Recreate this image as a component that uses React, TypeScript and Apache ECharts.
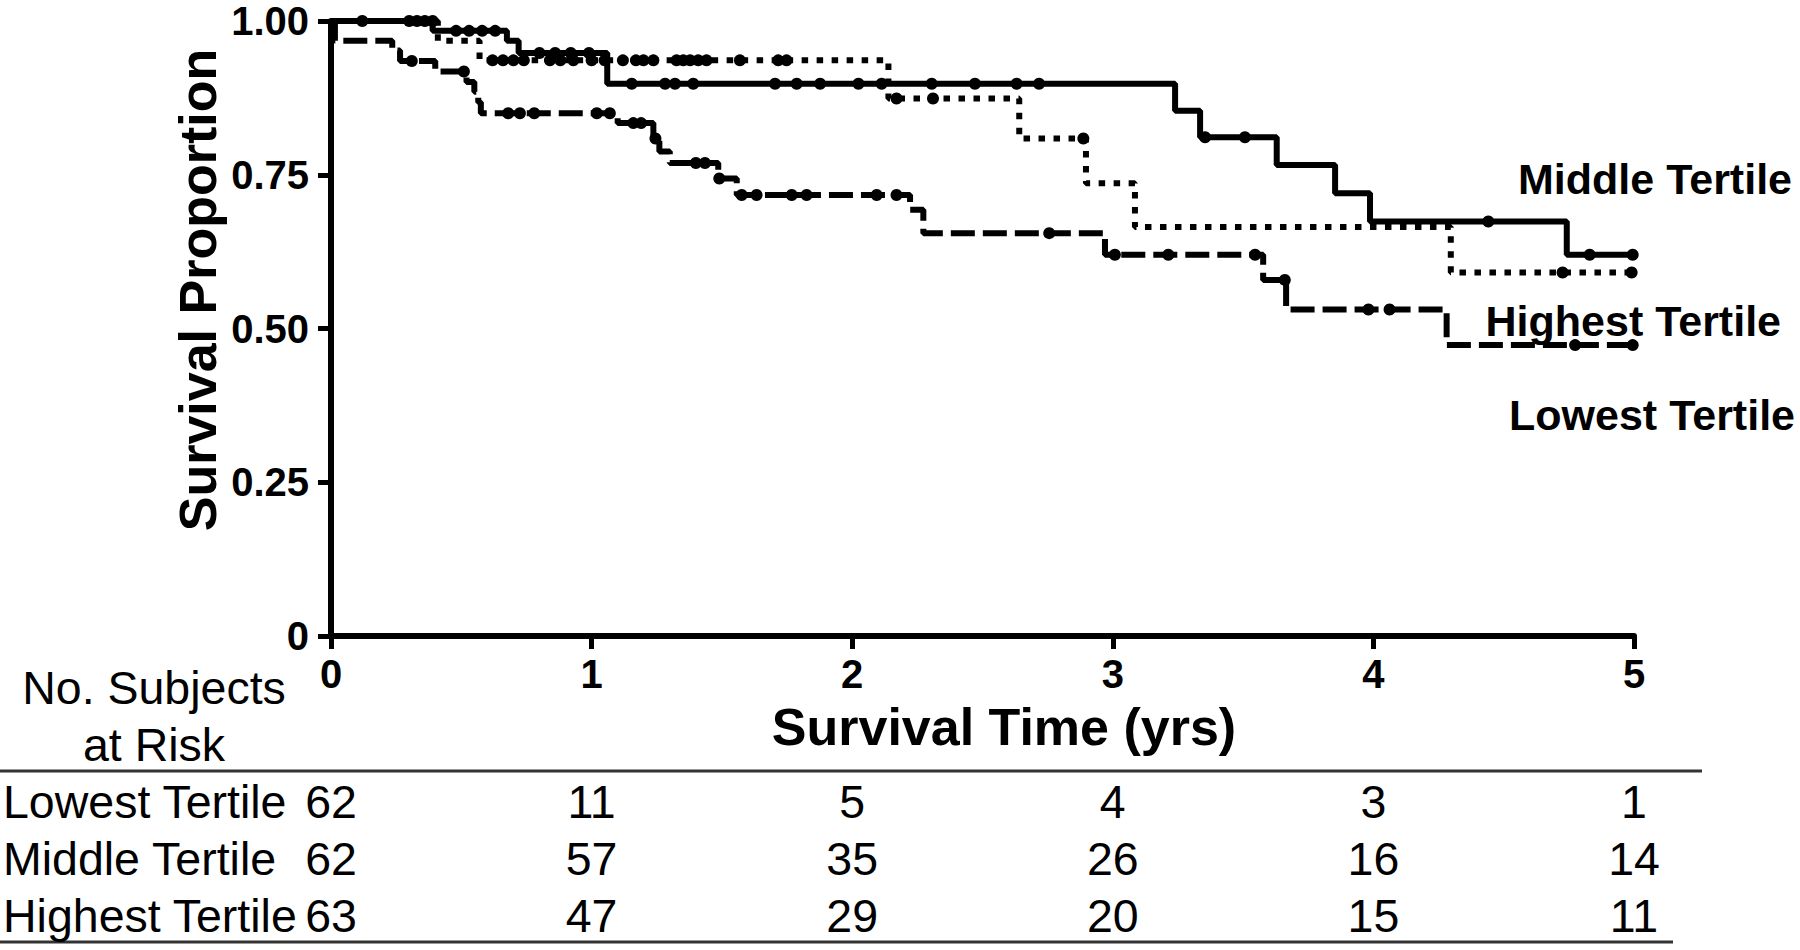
import React, { useEffect, useRef } from "react";
import * as echarts from "echarts";

// ---- data ----
const yearTicks = [0, 1, 2, 3, 4, 5];
const survivalTicks = [0, 0.25, 0.5, 0.75, 1];

// Kaplan-Meier steps: [time (yrs), survival proportion]
const lowestSteps: [number, number][] = [
  [0, 1], [0.015, 0.968], [0.235, 0.952], [0.265, 0.935], [0.4, 0.918], [0.52, 0.901],
  [0.55, 0.885], [0.565, 0.868], [0.575, 0.85], [1.1, 0.834], [1.237, 0.809], [1.26, 0.788],
  [1.3, 0.769], [1.486, 0.744], [1.557, 0.717], [2.222, 0.693], [2.273, 0.655], [2.97, 0.62],
  [3.577, 0.579], [3.665, 0.531], [4.281, 0.473], [5.0, 0.473],
];
const middleSteps: [number, number][] = [
  [0, 1], [0.39, 0.984], [0.675, 0.968], [0.72, 0.948], [1.06, 0.898], [3.239, 0.854],
  [3.335, 0.811], [3.629, 0.766], [3.853, 0.72], [3.987, 0.674], [4.742, 0.62], [5.0, 0.62],
];
const highestSteps: [number, number][] = [
  [0, 1], [0.41, 0.968], [0.57, 0.936], [2.139, 0.874], [2.641, 0.809], [2.897, 0.736],
  [3.085, 0.665], [4.297, 0.591], [5.0, 0.591],
];

// censored observations (times)
const lowestCensor = [
  0.31, 0.51, 0.68, 0.725, 0.78, 1.02, 1.07, 1.16, 1.19, 1.245, 1.4, 1.435, 1.49, 1.576,
  1.633, 1.768, 1.825, 2.094, 2.17, 2.756, 3.008, 3.213, 3.546, 3.66, 3.981, 4.062, 4.774, 4.995,
];
const middleCensor = [
  0.12, 0.48, 0.53, 0.58, 0.63, 0.8, 0.86, 0.92, 0.99, 1.154, 1.282, 1.32, 1.39, 1.704, 1.787,
  1.877, 2.024, 2.113, 2.305, 2.471, 2.631, 2.717, 3.354, 3.507, 4.441, 4.83, 4.995,
];
const highestCensor = [
  0.3, 0.33, 0.36, 0.39, 0.62, 0.66, 0.7, 0.74, 0.84, 0.88, 0.93, 1.0, 1.05, 1.12, 1.17, 1.199,
  1.237, 1.326, 1.352, 1.378, 1.409, 1.441, 1.569, 1.716, 1.748, 2.17, 2.31, 2.887, 4.726, 4.991,
];

// numbers at risk
const riskGroups = ["Lowest Tertile", "Middle Tertile", "Highest Tertile"];
const riskLowest = [62, 11, 5, 4, 3, 1];
const riskMiddle = [62, 57, 35, 26, 16, 14];
const riskHighest = [63, 47, 29, 20, 15, 11];

const FONT = "'Liberation Sans', Arial, Helvetica, sans-serif";

function levelAt(steps: [number, number][], t: number): number {
  let s = steps[0][1];
  for (const [x, y] of steps) if (x <= t) s = y;
  return s;
}

export default function App() {
  const ref = useRef<HTMLDivElement>(null);

  useEffect(() => {
    if (!ref.current) return;
    const chart = echarts.init(ref.current, null, { renderer: "svg" });

    const lineW = 6;
    const censorSeries = (name: string, times: number[], steps: [number, number][]) => ({
      name,
      type: "scatter",
      xAxisIndex: 0,
      yAxisIndex: 0,
      symbol: "circle",
      symbolSize: 12,
      itemStyle: { color: "#000", opacity: 1 },
      data: times.map((t) => [t, levelAt(steps, t)]),
      z: 5,
    });

    const riskData: any[] = [];
    [riskLowest, riskMiddle, riskHighest].forEach((row, ri) => {
      row.forEach((v, ci) => riskData.push([yearTicks[ci], riskGroups[ri], v]));
    });

    const axisStyle = {
      axisLine: { show: true, lineStyle: { color: "#000", width: 6 } },
      axisTick: { show: true, length: 13, lineStyle: { color: "#000", width: 5 } },
      splitLine: { show: false },
    };

    chart.setOption({
      animation: false,
      backgroundColor: "#fff",
      grid: [
        { left: 331, right: 166, top: 21, bottom: 314 },
        { left: 331, right: 166, top: 774, height: 170 },
      ],
      xAxis: [
        {
          type: "value",
          gridIndex: 0,
          min: 0,
          max: 5,
          interval: 1,
          ...axisStyle,
          axisLabel: {
            color: "#000",
            fontSize: 40,
            fontWeight: "bold",
            fontFamily: FONT,
            margin: 18,
            formatter: (v: number) => (yearTicks.includes(v) ? String(v) : ""),
          },
        },
        { type: "value", gridIndex: 1, min: 0, max: 5, show: false },
      ],
      yAxis: [
        {
          type: "value",
          gridIndex: 0,
          min: 0,
          max: 1,
          interval: 0.25,
          ...axisStyle,
          axisLabel: {
            color: "#000",
            fontSize: 40,
            fontWeight: "bold",
            fontFamily: FONT,
            margin: 22,
            formatter: (v: number) =>
              survivalTicks.includes(v) ? (v === 0 ? "0" : v.toFixed(2)) : "",
          },
        },
        {
          type: "category",
          gridIndex: 1,
          data: riskGroups,
          inverse: true,
          axisLine: { show: false },
          axisTick: { show: false },
          splitLine: { show: false },
          axisLabel: {
            interval: 0,
            align: "left",
            margin: 328,
            color: "#000",
            fontSize: 46.5,
            fontFamily: FONT,
          },
        },
      ],
      series: [
        {
          name: "Lowest Tertile",
          type: "line",
          step: "end",
          xAxisIndex: 0,
          yAxisIndex: 0,
          showSymbol: false,
          symbol: "none",
          lineStyle: { color: "#000", width: lineW, type: [24, 8] },
          data: lowestSteps,
          z: 2,
        },
        {
          name: "Highest Tertile",
          type: "line",
          step: "end",
          xAxisIndex: 0,
          yAxisIndex: 0,
          showSymbol: false,
          symbol: "none",
          lineStyle: { color: "#000", width: lineW, type: [6.5, 8.5] },
          data: highestSteps,
          z: 3,
        },
        {
          name: "Middle Tertile",
          type: "line",
          step: "end",
          xAxisIndex: 0,
          yAxisIndex: 0,
          showSymbol: false,
          symbol: "none",
          lineStyle: { color: "#000", width: lineW },
          data: middleSteps,
          z: 4,
        },
        censorSeries("Lowest censored", lowestCensor, lowestSteps),
        censorSeries("Middle censored", middleCensor, middleSteps),
        censorSeries("Highest censored", highestCensor, highestSteps),
        {
          name: "At risk",
          type: "scatter",
          xAxisIndex: 1,
          yAxisIndex: 1,
          symbolSize: 1,
          itemStyle: { color: "rgba(0,0,0,0)", opacity: 1 },
          data: riskData,
          label: {
            show: true,
            position: "inside",
            color: "#000",
            fontSize: 46.5,
            fontFamily: FONT,
            formatter: (p: any) => String(p.value[2]),
          },
        },
      ],
      graphic: [
        {
          type: "text",
          x: 198,
          y: 290,
          rotation: Math.PI / 2,
          style: {
            text: "Survival Proportion",
            fontSize: 52,
            fontWeight: "bold",
            fontFamily: FONT,
            fill: "#000",
            align: "center",
            verticalAlign: "middle",
          },
        },
        {
          type: "text",
          x: 1004,
          y: 727,
          style: {
            text: "Survival Time (yrs)",
            fontSize: 52,
            fontWeight: "bold",
            fontFamily: FONT,
            fill: "#000",
            align: "center",
            verticalAlign: "middle",
          },
        },
        {
          type: "text",
          x: 1792,
          y: 179,
          style: {
            text: "Middle Tertile",
            fontSize: 43,
            fontWeight: "bold",
            fontFamily: FONT,
            fill: "#000",
            align: "right",
            verticalAlign: "middle",
          },
        },
        {
          type: "text",
          x: 1781,
          y: 321,
          style: {
            text: "Highest Tertile",
            fontSize: 43,
            fontWeight: "bold",
            fontFamily: FONT,
            fill: "#000",
            align: "right",
            verticalAlign: "middle",
          },
        },
        {
          type: "text",
          x: 1795,
          y: 415,
          style: {
            text: "Lowest Tertile",
            fontSize: 43,
            fontWeight: "bold",
            fontFamily: FONT,
            fill: "#000",
            align: "right",
            verticalAlign: "middle",
          },
        },
        {
          type: "text",
          x: 154,
          y: 688,
          style: {
            text: "No. Subjects",
            fontSize: 46.5,
            fontFamily: FONT,
            fill: "#000",
            align: "center",
            verticalAlign: "middle",
          },
        },
        {
          type: "text",
          x: 154,
          y: 745,
          style: {
            text: "at Risk",
            fontSize: 46.5,
            fontFamily: FONT,
            fill: "#000",
            align: "center",
            verticalAlign: "middle",
          },
        },
        {
          type: "line",
          shape: { x1: 0, y1: 771, x2: 1702, y2: 771 },
          style: { stroke: "#333", lineWidth: 3 },
        },
        {
          type: "line",
          shape: { x1: 0, y1: 942, x2: 1673, y2: 942 },
          style: { stroke: "#333", lineWidth: 3 },
        },
      ],
    });

    return () => chart.dispose();
  }, []);

  return (
    <div
      ref={ref}
      style={{ position: "absolute", left: 0, top: 0, width: 1800, height: 950, background: "#fff" }}
    />
  );
}
